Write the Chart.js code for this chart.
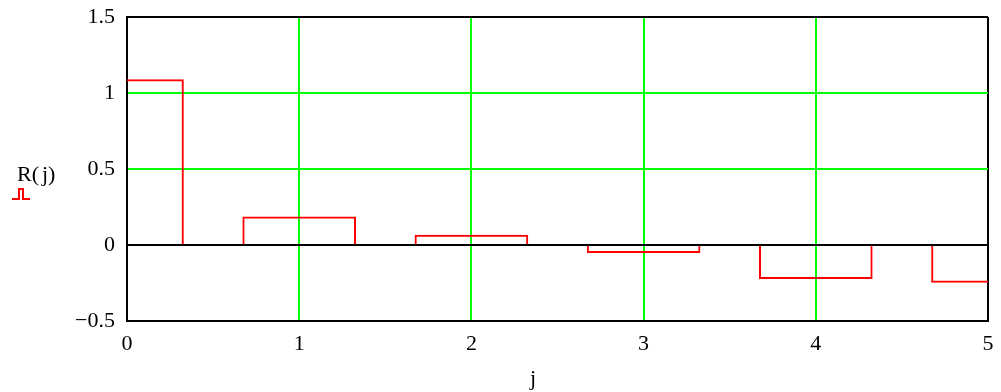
<!DOCTYPE html>
<html>
<head>
<meta charset="utf-8">
<script src="https://cdn.jsdelivr.net/npm/chart.js@4"></script>
<style>
  html, body { margin: 0; padding: 0; background: #fff; }
  #wrap { width: 1001px; height: 392px; }
</style>
</head>
<body>
<div id="wrap"><canvas id="chartOfR" width="1001" height="392"></canvas></div>
<script>
// データ
const jValues = [0, 1, 2, 3, 4, 5];
const rValues = [1.09, 0.187, 0.068, -0.053, -0.224, -0.249];
const yTicks = [-0.5, 0, 0.5, 1, 1.5];
const xTicks = [0, 1, 2, 3, 4, 5];

const serif = "'Liberation Serif', 'DejaVu Serif', serif";

// 軸ラベルと凡例マーク
const labelPlugin = {
  id: "labels",
  afterDraw(chart) {
    const ctx = chart.ctx;
    ctx.save();
    ctx.fillStyle = "#000";
    ctx.font = "22px " + serif;
    ctx.textAlign = "left";
    ctx.textBaseline = "alphabetic";
    ctx.fillText("R(", 17, 181);
    const w = ctx.measureText("R(").width;
    ctx.fillText("j)", 17 + w + 3, 181);
    ctx.textAlign = "center";
    ctx.fillText("j", 533, 385);
    // 凡例マーク
    ctx.strokeStyle = "#ff0000";
    ctx.lineWidth = 2;
    ctx.beginPath();
    ctx.moveTo(12, 199);
    ctx.lineTo(19, 199);
    ctx.lineTo(19, 189);
    ctx.lineTo(23, 189);
    ctx.lineTo(23, 199);
    ctx.lineTo(30, 199);
    ctx.stroke();
    ctx.restore();
  },
};

function setupChart() {
  const ctx = document.getElementById("chartOfR").getContext("2d");
  new Chart(ctx, {
    type: "bar",
    data: {
      datasets: [
        {
          label: "R(j)",
          data: jValues.map((j, i) => ({ x: j, y: rValues[i] })),
          backgroundColor: "rgba(0,0,0,0)",
          borderColor: "#ff0000",
          borderWidth: 2,
          borderSkipped: "start",
          barPercentage: 0.66,
          categoryPercentage: 1,
        },
      ],
    },
    options: {
      responsive: false,
      animation: false,
      layout: { padding: { left: 0, right: 13, top: 17, bottom: 0 } },
      plugins: { legend: { display: false }, tooltip: { enabled: false } },
      scales: {
        x: {
          type: "linear",
          min: 0,
          max: 5,
          offset: false,
          afterBuildTicks: (s) => { s.ticks = xTicks.map((v) => ({ value: v })); },
          afterFit: (s) => { s.height = 71; s.paddingLeft = 0; s.paddingRight = 0; },
          ticks: { font: { family: serif, size: 22 }, color: "#000", padding: 10, maxRotation: 0 },
          grid: {
            offset: false,
            drawTicks: false,
            lineWidth: 2,
            color: (c) => (c.tick && (c.tick.value === 0 || c.tick.value === 5) ? "#000" : "#00ff00"),
          },
          border: { display: true, color: "#000", width: 2 },
        },
        y: {
          min: -0.5,
          max: 1.5,
          afterBuildTicks: (s) => { s.ticks = yTicks.map((v) => ({ value: v })); },
          afterFit: (s) => { s.width = 127; s.paddingTop = 0; s.paddingBottom = 0; },
          ticks: {
            font: { family: serif, size: 22 },
            color: "#000",
            padding: 12,
            callback: (v) => String(v).replace("-", "\u2212"),
          },
          grid: {
            drawTicks: false,
            lineWidth: 2,
            color: (c) => (c.tick && (c.tick.value === 0 || c.tick.value === 1.5 || c.tick.value === -0.5) ? "#000" : "#00ff00"),
          },
          border: { display: true, color: "#000", width: 2 },
        },
      },
    },
    plugins: [labelPlugin],
  });
}

document.addEventListener("DOMContentLoaded", setupChart);
</script>
</body>
</html>
